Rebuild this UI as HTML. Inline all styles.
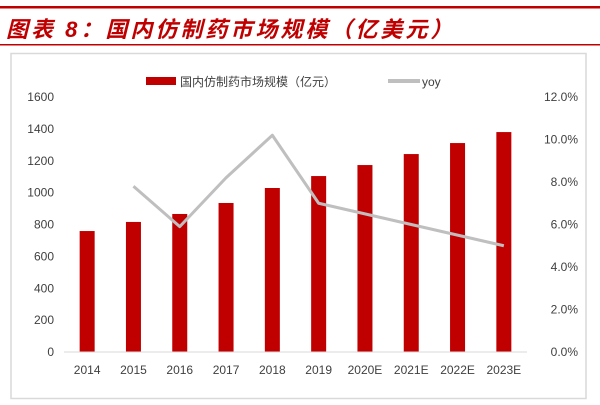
<!DOCTYPE html>
<html><head><meta charset="utf-8"><style>
body{margin:0;background:#fff;width:600px;height:400px;overflow:hidden;font-family:"Liberation Sans","Noto Sans CJK SC",sans-serif}
</style></head><body>
<svg width="600" height="400">
<rect x="0" y="6" width="600" height="2.5" fill="#c00000"/>
<text x="6" y="37" font-size="22" letter-spacing="3" font-style="italic" font-weight="bold" fill="#c00000" font-family="'Liberation Sans','Noto Sans CJK SC',sans-serif">图表 8：国内仿制药市场规模（亿美元）</text>
<rect x="0" y="44" width="600" height="1.5" fill="#c00000"/>
<rect x="11" y="53.5" width="575" height="345" fill="#fff" stroke="#d9d9d9" stroke-width="1.5"/>
<g id="legend">
<rect x="146" y="77" width="30" height="8" fill="#c00000"/>
<text x="180" y="86" font-size="12" fill="#404040">国内仿制药市场规模（亿元）</text>
<rect x="388" y="79" width="32" height="4" fill="#bfbfbf"/>
<text x="422" y="86" font-size="12" fill="#404040">yoy</text>
</g>
<g id="plot"></g>
</svg>
<script>
const categories=["2014","2015","2016","2017","2018","2019","2020E","2021E","2022E","2023E"];
const marketValues=[759,816,866,935,1029,1104,1173,1242,1311,1380];
const yoyValues=[null,7.8,5.9,8.2,10.2,7.0,6.5,6.0,5.5,5.0];
const leftTicks=[0,200,400,600,800,1000,1200,1400,1600];
const rightTicks=[0,2,4,6,8,10,12];
const ns="http://www.w3.org/2000/svg";
const g=document.getElementById('plot');
const y0=352,y1=97,x0=64,step=46.3;
const yL=v=>y0-(v/1600)*(y0-y1);
const yR=v=>y0-(v/12)*(y0-y1);
const xC=i=>x0+step*(i+0.5);
function mk(t,a){const e=document.createElementNS(ns,t);for(const k in a)e.setAttribute(k,a[k]);g.appendChild(e);return e;}
leftTicks.forEach(v=>{const t=mk('text',{x:54,y:yL(v)+4,'font-size':12,fill:'#404040','text-anchor':'end'});t.textContent=v;

});
rightTicks.forEach(v=>{const t=mk('text',{x:578,y:yR(v)+4,'font-size':12,fill:'#404040','text-anchor':'end'});t.textContent=v.toFixed(1)+'%';

});
marketValues.forEach((v,i)=>{const r=mk('rect',{x:xC(i)-7.5,y:yL(v),width:15,height:y0-yL(v),fill:'#c00000'});

});
const ax=mk('line',{x1:x0,x2:x0+step*10,y1:y0,y2:y0,stroke:'#d9d9d9','stroke-width':1});


categories.forEach((c,i)=>{const t=mk('text',{x:xC(i),y:374,'font-size':12,fill:'#404040','text-anchor':'middle'});t.textContent=c;

});
const pts=[];yoyValues.forEach((v,i)=>{if(v!=null)pts.push(xC(i)+','+yR(v));});
const pl=mk('polyline',{points:pts.join(' '),fill:'none',stroke:'#bfbfbf','stroke-width':3,'stroke-linejoin':'round'});


</script>
</body></html>
